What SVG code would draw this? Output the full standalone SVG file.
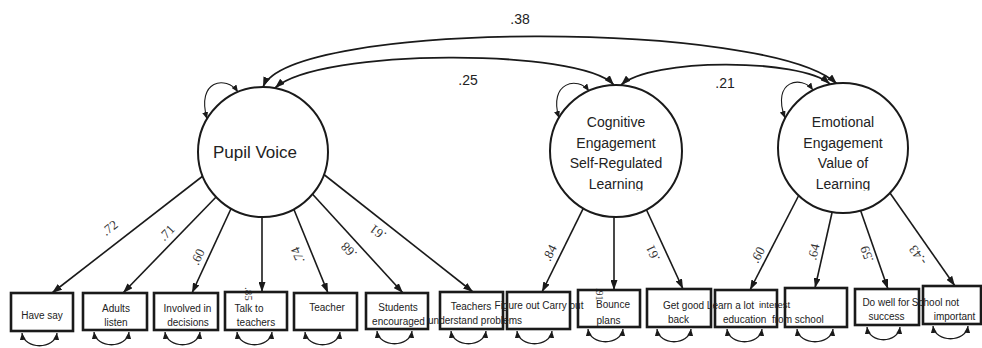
<svg xmlns="http://www.w3.org/2000/svg" width="982" height="348" viewBox="0 0 982 348">
<defs>
<marker id="ah" markerUnits="userSpaceOnUse" markerWidth="10" markerHeight="7" viewBox="0 0 10 7" refX="10" refY="3.5" orient="auto-start-reverse"><path d="M0,0 L10,3.5 L0,7 z" fill="#1a1a1a"/></marker>
<marker id="as" markerUnits="userSpaceOnUse" markerWidth="7" markerHeight="6" viewBox="0 0 7 6" refX="7" refY="3" orient="auto-start-reverse"><path d="M0,0 L7,3 L0,6 z" fill="#1a1a1a"/></marker>
<clipPath id="clipL"><rect x="0" y="0" width="982" height="190.5"/></clipPath>
</defs>
<style>
.box{fill:none;stroke:#1a1a1a;stroke-width:2.6}
.lat{fill:#fff;stroke:#1a1a1a;stroke-width:2}
.ln{fill:none;stroke:#1a1a1a;stroke-width:1.6;marker-end:url(#ah)}
.cov{fill:none;stroke:#1a1a1a;stroke-width:1.8;marker-start:url(#ah);marker-end:url(#ah)}
.sl{fill:none;stroke:#1a1a1a;stroke-width:1.1;marker-start:url(#as);marker-end:url(#as)}
.er{fill:none;stroke:#1a1a1a;stroke-width:1.3;marker-start:url(#as);marker-end:url(#as)}
.t{font-family:"Liberation Sans",Arial,sans-serif;font-size:10px;fill:#222;text-anchor:middle}
.ts{font-family:"Liberation Sans",Arial,sans-serif;font-size:10px;fill:#222;text-anchor:start}
.lt{font-family:"Liberation Sans",Arial,sans-serif;font-size:14px;fill:#222;text-anchor:middle}
.ld{font-family:"Liberation Serif","Times New Roman",serif;font-size:13px;fill:#333;text-anchor:middle}
.lv{font-family:"Liberation Serif","Times New Roman",serif;font-size:11px;fill:#333;text-anchor:start}
.cv{font-family:"Liberation Sans",Arial,sans-serif;font-size:14px;fill:#222;text-anchor:middle}
</style>
<rect x="0" y="0" width="982" height="348" fill="#fff"/>

<g id="connectors">
  <path class="cov" d="M263,87 C290,20 770,20 837,84"/>
  <path class="cov" d="M275,88 C320,48 580,48 614,85"/>
  <path class="cov" d="M621,85 C650,58 800,58 830,84"/>
  <text class="cv" x="520" y="24">.38</text>
  <text class="cv" x="468" y="85">.25</text>
  <text class="cv" x="725" y="88">.21</text>

  <path class="sl" d="M238,92 C226,75 196,80 207,119"/>
  <path class="sl" d="M589,91 C578,76 548,82 559,118"/>
  <path class="sl" d="M813,90 C802,75 771,80 785,118"/>

  <line class="ln" x1="208" y1="172" x2="52" y2="293"/>
  <line class="ln" x1="219" y1="194" x2="123" y2="293"/>
  <line class="ln" x1="232.5" y1="205.5" x2="192" y2="293"/>
  <line class="ln" x1="262" y1="212" x2="262" y2="292"/>
  <line class="ln" x1="292.7" y1="206.5" x2="328" y2="293"/>
  <line class="ln" x1="311" y1="192.5" x2="403" y2="293"/>
  <line class="ln" x1="322" y1="173" x2="473" y2="292"/>
  <line class="ln" x1="585.6" y1="203.6" x2="542" y2="292"/>
  <line class="ln" x1="614" y1="211" x2="614" y2="290"/>
  <line class="ln" x1="644.5" y1="205.5" x2="683" y2="289"/>
  <line class="ln" x1="800" y1="193" x2="750" y2="290"/>
  <line class="ln" x1="833.3" y1="207" x2="815" y2="288"/>
  <line class="ln" x1="859" y1="206" x2="888" y2="289"/>
  <line class="ln" x1="888.6" y1="191" x2="955" y2="286"/>

  <text class="ld" transform="translate(110,228) rotate(-37.8)" y="4">.72</text>
  <text class="ld" transform="translate(167,233) rotate(-46)" y="4">.71</text>
  <text class="ld" transform="translate(198,257) rotate(-65)" y="4">.60</text>
  <text class="lv" transform="translate(245,287) rotate(90)">.85</text>
  <text class="ld" transform="translate(298,255) rotate(247.6)" y="4">.74</text>
  <text class="ld" transform="translate(349,250) rotate(226.6)" y="4">.68</text>
  <text class="ld" transform="translate(378,232) rotate(217)" y="4">.61</text>
  <text class="ld" transform="translate(550,253) rotate(-63)" y="4">.84</text>
  <text class="lv" transform="translate(596,288) rotate(90)" style="font-size:10px">.91</text>
  <text class="ld" transform="translate(653,253) rotate(245)" y="4">.61</text>
  <text class="ld" transform="translate(758,255) rotate(-62)" y="4">.60</text>
  <text class="ld" transform="translate(814,252) rotate(-77)" y="4">.64</text>
  <text class="ld" transform="translate(867,254) rotate(250)" y="4">.59</text>
  <text class="ld" transform="translate(918,255) rotate(235)" y="4">-.43</text>

  <path class="er" d="M22,333 C24,350 55,350 57,333"/>
  <path class="er" d="M94,332 C96,349 127,349 129,332"/>
  <path class="er" d="M165,332 C167,349 198,349 200,332"/>
  <path class="er" d="M237,332 C239,349 270,349 272,332"/>
  <path class="er" d="M305,332 C307,349 338,349 340,332"/>
  <path class="er" d="M377,331 C379,348 410,348 412,331"/>
  <path class="er" d="M451,331 C453,348 484,348 486,331"/>
  <path class="er" d="M517,331 C519,348 550,348 552,331"/>
  <path class="er" d="M588,329 C590,346 621,346 623,329"/>
  <path class="er" d="M657,329 C659,346 689,346 691,329"/>
  <path class="er" d="M727,329 C729,346 760,346 762,329"/>
  <path class="er" d="M797,329 C799,346 831,346 833,329"/>
  <path class="er" d="M867,327 C869,344 898,344 900,327"/>
  <path class="er" d="M933,326 C935,343 966,343 968,326"/>
</g>

<g id="pupil-voice">
  <circle class="lat" cx="263" cy="152" r="65"/>
  <text class="lt" x="255" y="158" style="font-size:17px">Pupil Voice</text>
</g>
<g id="cognitive-engagement">
  <circle class="lat" cx="616" cy="151" r="66"/>
  <text class="lt" x="616" y="127">Cognitive</text>
  <text class="lt" x="616" y="148">Engagement</text>
  <text class="lt" x="616" y="168">Self-Regulated</text>
  <text class="lt" x="616" y="189" clip-path="url(#clipL)">Learning</text>
</g>
<g id="emotional-engagement">
  <circle class="lat" cx="843" cy="148" r="65"/>
  <text class="lt" x="843" y="127">Emotional</text>
  <text class="lt" x="843" y="148">Engagement</text>
  <text class="lt" x="843" y="168">Value of</text>
  <text class="lt" x="843" y="189" clip-path="url(#clipL)">Learning</text>
</g>

<g id="have-say"><rect class="box" x="11" y="293" width="62" height="38"/><text class="t" x="42" y="319">Have say</text></g>
<g id="adults-listen"><rect class="box" x="83" y="293" width="64" height="37"/><text class="t" x="116" y="312">Adults</text><text class="t" x="116" y="326">listen</text></g>
<g id="involved"><rect class="box" x="154" y="293" width="64" height="37"/><text class="t" x="187.5" y="312">Involved in</text><text class="t" x="188" y="326">decisions</text></g>
<g id="talk-to-teachers"><rect class="box" x="225" y="292" width="62" height="38"/><text class="t" x="249" y="312">Talk to</text><text class="t" x="256" y="326">teachers</text></g>
<g id="teacher"><rect class="box" x="294" y="293" width="63" height="37"/><text class="t" x="327" y="311">Teacher</text></g>
<g id="students-encouraged"><rect class="box" x="366" y="293" width="62" height="36"/><text class="t" x="398" y="311">Students</text><text class="t" x="398.5" y="325">encouraged</text></g>
<g id="teachers-understand"><rect class="box" x="440" y="292" width="63" height="37"/><text class="t" x="471" y="310">Teachers</text><text class="t" x="475" y="324">understand problems</text></g>
<g id="figure-out"><rect class="box" x="507" y="292" width="63" height="37"/><text class="t" x="539" y="309">Figure out Carry out</text></g>
<g id="bounce-plans"><rect class="box" x="578" y="290" width="62" height="37"/><text class="t" x="613" y="308">Bounce</text><text class="t" x="608.5" y="324">plans</text></g>
<g id="get-good-back"><rect class="box" x="647" y="289" width="64" height="38"/><text class="t" x="683.5" y="308.5">Get good</text><text class="t" x="678.5" y="322.5">back</text></g>
<g id="learn-a-lot"><rect class="box" x="715" y="290" width="62" height="37"/><text class="t" x="730.5" y="308.5">Learn a lot</text><text class="ts" x="723" y="322.5">education</text></g>
<g id="interest-school"><rect class="box" x="785" y="288" width="62" height="39"/><text class="t" x="774.5" y="308" style="font-size:9.5px">interest</text><text class="ts" x="772" y="323">from school</text></g>
<g id="do-well"><rect class="box" x="855" y="289" width="64" height="36"/><text class="t" x="886" y="306">Do well for</text><text class="t" x="886.5" y="320">success</text></g>
<g id="school-not-important"><rect class="box" x="923" y="286" width="58" height="38"/><text class="t" x="935.5" y="306">School not</text><text class="t" x="954.5" y="320">important</text></g>
</svg>
